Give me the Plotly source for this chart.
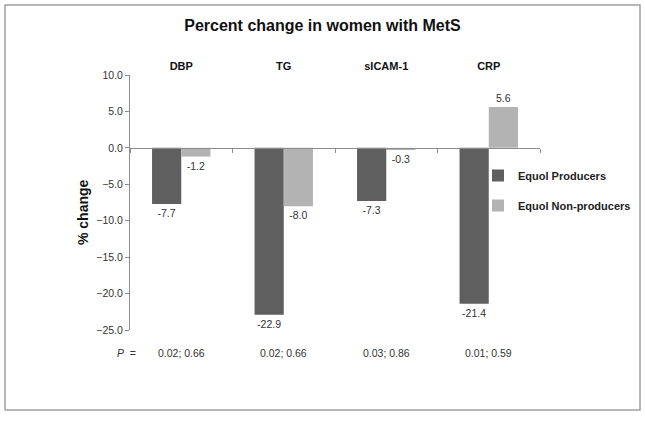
import plotly.graph_objects as go

categories = ["DBP", "TG", "sICAM-1", "CRP"]
producers = [-7.7, -22.9, -7.3, -21.4]
non_producers = [-1.2, -8.0, -0.3, 5.6]
p_values = ["0.02; 0.66", "0.02; 0.66", "0.03; 0.86", "0.01; 0.59"]
series_names = ["Equol Producers", "Equol Non-producers"]

W, H = 645, 422
ML, MR, MT, MB = 130, 105, 75, 92
PW, PH = W - ML - MR, H - MT - MB

def px_x(x):
    return (x - ML) / PW

def px_y(y):
    return (H - MB - y) / PH

FONT = "Liberation Sans, Arial, sans-serif"
DARK = "#5f5f5f"
LIGHT = "#b3b3b3"

fig = go.Figure()
for name, vals, col, grp in [(series_names[0], producers, DARK, "a"),
                             (series_names[1], non_producers, LIGHT, "b")]:
    fig.add_trace(go.Bar(
        x=categories, y=vals, name="<b>" + name + "</b>",
        marker=dict(color=col, line=dict(width=0)),
        text=[f"{v:.1f}" for v in vals], textposition="outside",
        textfont=dict(size=10.5, color="#333333", family=FONT),
        cliponaxis=False, legendgroup=grp,
    ))

# invisible trace to drive the zero-line category axis
fig.add_trace(go.Scatter(x=categories, y=[0] * len(categories), xaxis="x2",
                         mode="markers", marker=dict(opacity=0), showlegend=False,
                         hoverinfo="skip"))

ymin, ymax = -25, 10
fig.update_layout(
    width=W, height=H,
    margin=dict(l=ML, r=MR, t=MT, b=MB, autoexpand=False),
    paper_bgcolor="white", plot_bgcolor="white",
    font=dict(family=FONT, color="#333333"),
    barmode="group", bargap=0.43, bargroupgap=0,
    title=dict(text="<b>Percent change in women with MetS</b>", x=0.5, xref="container",
               xanchor="center", y=1 - 25 / H, yref="container", yanchor="middle",
               font=dict(size=16, color="#111111", family=FONT)),
    xaxis=dict(side="top", showline=False, ticks="", showgrid=False, zeroline=False,
               automargin=False,
               categoryorder="array", categoryarray=categories,
               tickfont=dict(size=11, color="#111111", family=FONT),
               tickprefix="<b>", ticksuffix="</b>", ticklabelstandoff=2),
    xaxis2=dict(overlaying="x", anchor="free", position=(0 - ymin) / (ymax - ymin),
                matches="x", showline=True, linecolor="#8c8c8c", linewidth=1,
                automargin=False,
                ticks="outside", ticklen=4, tickcolor="#8c8c8c", tickson="boundaries",
                showticklabels=False, showgrid=False, zeroline=False),
    yaxis=dict(range=[ymin, ymax], dtick=5, tickformat=".1f", showline=True,
               automargin=False,
               linecolor="#8c8c8c", linewidth=1, ticks="outside", ticklen=4,
               tickcolor="#8c8c8c", showgrid=False, zeroline=False,
               tickfont=dict(size=10.5, color="#333333", family=FONT)),
    legend=dict(x=px_x(478), y=px_y(161), xanchor="left", yanchor="top",
                traceorder="grouped", tracegroupgap=11, itemwidth=30,
                font=dict(size=11, color="#222222", family=FONT),
                bgcolor="rgba(0,0,0,0)"),
    showlegend=True,
)

# y axis title
fig.add_annotation(text="<b>% change</b>", textangle=-90, x=px_x(83), y=px_y(212),
                   xref="paper", yref="paper", xanchor="center", yanchor="middle",
                   showarrow=False,
                   font=dict(size=14, color="#111111", family=FONT))

# P values row
fig.add_annotation(text="<i>P</i>  =", x=px_x(115), y=px_y(353), xref="paper", yref="paper",
                   xanchor="left", yanchor="middle",
                   showarrow=False, font=dict(size=10.5, color="#333333", family=FONT))
for c, p in zip(categories, p_values):
    fig.add_annotation(text=p, x=c, y=px_y(353), xref="x", yref="paper",
                       xanchor="center", yanchor="middle",
                       showarrow=False, font=dict(size=10.5, color="#333333", family=FONT))

# outer border
fig.add_shape(type="rect", xref="paper", yref="paper",
              x0=px_x(5), x1=px_x(640), y0=px_y(410), y1=px_y(5),
              line=dict(color="#a0a0a0", width=1.5), fillcolor="rgba(0,0,0,0)", layer="below")

fig.write_html("out.html", config={"displayModeBar": False},
               post_script="document.body.style.margin='0';")
